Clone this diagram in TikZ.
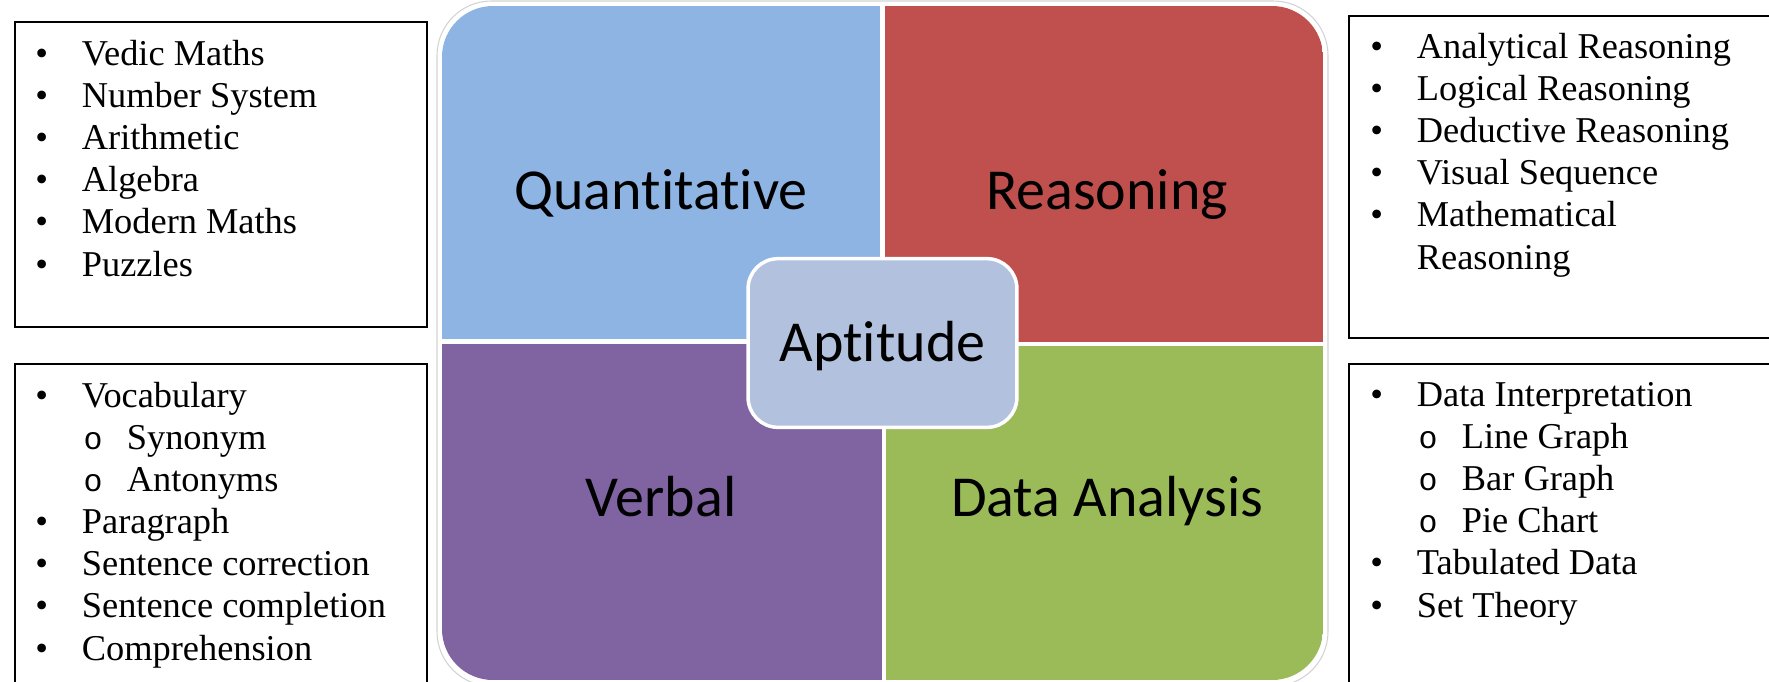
\documentclass[tikz,border=0pt]{standalone}
\usepackage{fontspec}
\setmainfont{Liberation Serif}
\newfontfamily\calibrifont[Ligatures=NoCommon]{Carlito}
\newfontfamily\courierfont{Liberation Mono}
\usepackage{tikz}
\definecolor{quantblue}{HTML}{8EB4E3}
\definecolor{reasred}{HTML}{C0504D}
\definecolor{verbpurple}{HTML}{8064A2}
\definecolor{datagreen}{HTML}{9BBB59}
\definecolor{aptfill}{HTML}{B2C1DD}
\newcommand{\bul}{\makebox[26.5pt][l]{\textbullet}}
\newcommand{\subbul}{\hspace*{26.5pt}\makebox[25.6pt][l]{\hspace*{1pt}\courierfont\fontsize{18}{24}\selectfont o}}
\tikzset{
  listbox/.style={draw=black, line width=1.1pt},
  % base of a multi-line node = baseline of its last line
  listtext/.style={anchor=base west, inner sep=0pt, align=left, font=\fontsize{20.7}{24}\selectfont},
  quadlab/.style={anchor=base, inner sep=0pt, font=\calibrifont\fontsize{33}{40}\selectfont},
  hub/.style={draw=white, line width=2pt, fill=aptfill, rounded corners=17pt,
    minimum width=153pt, minimum height=96pt, inner sep=0pt,
    text height=21.6pt, text depth=0pt, font=\calibrifont\fontsize{33}{40}\selectfont}
}

\begin{document}
\begin{tikzpicture}[x=0.02cm, y=-0.02cm]
  % 1 unit = 1 px of the 1769 x 681 page
  \useasboundingbox (0,0) rectangle (1769,681);

  % four quadrants, clipped to the rounded panel
  \draw[gray!35, line width=0.6pt, rounded corners=31pt] (437,1) rectangle (1328,686);
  \begin{scope}
    \clip[rounded corners=29pt] (442,6) rectangle (1323,680);
    \fill[quantblue] (442,6) rectangle (880,339);
    \fill[reasred] (885,6) rectangle (1323,342);
    \fill[verbpurple] (442,344) rectangle (882,680);
    \fill[datagreen] (886,346) rectangle (1323,680);
  \end{scope}

  \node[quadlab] (quant) at (661,209) {Quantitative};
  \node[quadlab] (reas) at (1107,209) {Reasoning};
  \node[quadlab] (verb) at (661,516) {Verbal};
  \node[quadlab] (data) at (1107,516) {Data Analysis};

  \node[hub] (apt) at (882.5,343) {Aptitude};

  % side lists
  \draw[listbox] (15,22) rectangle (427,327);
  \draw[listbox] (15,690) -- (15,364) -- (427,364) -- (427,690);
  \draw[listbox] (1780,16) -- (1349,16) -- (1349,338) -- (1780,338);
  \draw[listbox] (1780,364) -- (1349,364) -- (1349,690);

  \node[listtext] (quantlist) at (35,276) {\bul Vedic Maths\\ \bul Number System\\ \bul Arithmetic\\
    \bul Algebra\\ \bul Modern Maths\\ \bul Puzzles};
  \node[listtext] (verblist) at (35,660) {\bul Vocabulary\\ \subbul Synonym\\ \subbul Antonyms\\
    \bul Paragraph\\ \bul Sentence correction\\ \bul Sentence completion\\ \bul Comprehension};
  \node[listtext] (reaslist) at (1370,269) {\bul Analytical Reasoning\\ \bul Logical Reasoning\\
    \bul Deductive Reasoning\\ \bul Visual Sequence\\ \bul Mathematical\\ \hspace*{26.5pt}Reasoning};
  \node[listtext] (datalist) at (1370,617) {\bul Data Interpretation\\ \subbul Line Graph\\
    \subbul Bar Graph\\ \subbul Pie Chart\\ \bul Tabulated Data\\ \bul Set Theory};
\end{tikzpicture}
\end{document}
